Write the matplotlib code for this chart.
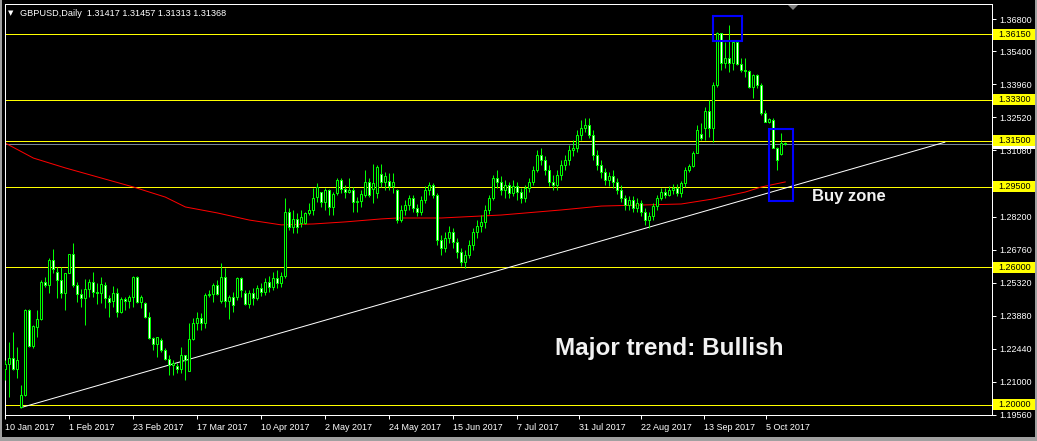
import matplotlib
matplotlib.use("Agg")
import matplotlib.pyplot as plt
from matplotlib.patches import Rectangle, Polygon
import matplotlib.transforms as mtransforms

# ---------------- data ----------------
opens = [
    1.2157, 1.2179, 1.2204, 1.2157, 1.1992, 1.2043, 1.2414, 1.2257, 1.2339, 1.2375,
    1.2535, 1.2522, 1.2631, 1.2579, 1.2544, 1.2488, 1.2575, 1.2657, 1.2522, 1.2484,
    1.2466, 1.2505, 1.2535, 1.2492, 1.2488, 1.2522, 1.2466, 1.2453, 1.2488, 1.2405,
    1.2462, 1.2453, 1.2470, 1.2557, 1.2448, 1.2444, 1.2383, 1.2292, 1.2266, 1.2283,
    1.2239, 1.2200, 1.2174, 1.2170, 1.2157, 1.2218, 1.2148, 1.2287, 1.2357, 1.2379,
    1.2357, 1.2479, 1.2484, 1.2522, 1.2453, 1.2557, 1.2453, 1.2470, 1.2470, 1.2553,
    1.2488, 1.2440, 1.2488, 1.2466, 1.2509, 1.2492, 1.2535, 1.2514, 1.2553, 1.2531,
    1.2561, 1.2840, 1.2775, 1.2809, 1.2792, 1.2792, 1.2836, 1.2849, 1.2905, 1.2927,
    1.2884, 1.2936, 1.2862, 1.2923, 1.2979, 1.2940, 1.2927, 1.2936, 1.2884, 1.2888,
    1.2914, 1.2971, 1.2940, 1.2923, 1.3006, 1.2971, 1.2975, 1.2953, 1.2936, 1.2805,
    1.2849, 1.2871, 1.2901, 1.2858, 1.2840, 1.2892, 1.2936, 1.2958, 1.2914, 1.2718,
    1.2683, 1.2727, 1.2753, 1.2710, 1.2666, 1.2622, 1.2653, 1.2697, 1.2753, 1.2779,
    1.2797, 1.2849, 1.2901, 1.2988, 1.2971, 1.2936, 1.2958, 1.2923, 1.2953, 1.2927,
    1.2901, 1.2945, 1.2971, 1.3023, 1.3088, 1.3067, 1.3023, 1.2971, 1.2958, 1.3001,
    1.3045, 1.3067, 1.3110, 1.3119, 1.3175, 1.3206, 1.3219, 1.3175, 1.3088, 1.3045,
    1.3014, 1.2979, 1.2997, 1.2971, 1.2936, 1.2901, 1.2871, 1.2892, 1.2858, 1.2879,
    1.2840, 1.2805, 1.2823, 1.2866, 1.2901, 1.2927, 1.2914, 1.2936, 1.2945, 1.2923,
    1.2966, 1.3023, 1.3040, 1.3097, 1.3180, 1.3206, 1.3280, 1.3206, 1.3393, 1.3619,
    1.3489, 1.3511, 1.3489, 1.3580, 1.3484, 1.3458, 1.3454, 1.3384, 1.3437, 1.3393,
    1.3271, 1.3232, 1.3241, 1.3119, 1.3093, 1.31417,
]
highs = [
    1.2196, 1.2274, 1.2317, 1.2253, 1.2087, 1.2418, 1.2418, 1.2348, 1.2414, 1.2544,
    1.2557, 1.2640, 1.2679, 1.2601, 1.2601, 1.2575, 1.2657, 1.2705, 1.2535, 1.2505,
    1.2548, 1.2548, 1.2579, 1.2531, 1.2557, 1.2535, 1.2479, 1.2518, 1.2509, 1.2470,
    1.2470, 1.2479, 1.2561, 1.2561, 1.2479, 1.2448, 1.2405, 1.2296, 1.2296, 1.2292,
    1.2248, 1.2218, 1.2196, 1.2183, 1.2253, 1.2218, 1.2357, 1.2379, 1.2405, 1.2401,
    1.2488, 1.2501, 1.2531, 1.2544, 1.2618, 1.2596, 1.2479, 1.2492, 1.2557, 1.2557,
    1.2501, 1.2501, 1.2509, 1.2522, 1.2531, 1.2553, 1.2561, 1.2579, 1.2588, 1.2579,
    1.2901, 1.2858, 1.2849, 1.2836, 1.2849, 1.2840, 1.2879, 1.2945, 1.2966, 1.2927,
    1.2945, 1.2940, 1.2927, 1.2988, 1.2988, 1.2958, 1.2988, 1.2949, 1.2905, 1.2936,
    1.3023, 1.2988, 1.3049, 1.3045, 1.3049, 1.3014, 1.3010, 1.3010, 1.2940, 1.2871,
    1.2892, 1.2914, 1.2914, 1.2875, 1.2910, 1.2953, 1.2971, 1.2966, 1.2923, 1.2740,
    1.2753, 1.2779, 1.2771, 1.2727, 1.2683, 1.2675, 1.2718, 1.2771, 1.2805, 1.2827,
    1.2871, 1.2914, 1.3001, 1.3023, 1.2997, 1.2979, 1.2971, 1.2979, 1.2971, 1.2945,
    1.2958, 1.2988, 1.3040, 1.3110, 1.3119, 1.3084, 1.3045, 1.3001, 1.3023, 1.3067,
    1.3088, 1.3132, 1.3154, 1.3197, 1.3241, 1.3249, 1.3249, 1.3197, 1.3110, 1.3067,
    1.3032, 1.3014, 1.3023, 1.2988, 1.2958, 1.2914, 1.2910, 1.2910, 1.2901, 1.2892,
    1.2858, 1.2840, 1.2879, 1.2914, 1.2945, 1.2945, 1.2953, 1.2962, 1.2962, 1.2975,
    1.3036, 1.3049, 1.3106, 1.3219, 1.3228, 1.3297, 1.3328, 1.3406, 1.3624, 1.3619,
    1.3580, 1.3654, 1.3589, 1.3589, 1.3511, 1.3511, 1.3458, 1.3441, 1.3441, 1.3402,
    1.3284, 1.3249, 1.3249, 1.3123, 1.3184, 1.31457,
]
lows = [
    1.2109, 1.2035, 1.2152, 1.2117, 1.1987, 1.2039, 1.2253, 1.2248, 1.2296, 1.2370,
    1.2514, 1.2488, 1.2575, 1.2466, 1.2466, 1.2414, 1.2575, 1.2514, 1.2448, 1.2427,
    1.2348, 1.2470, 1.2470, 1.2440, 1.2444, 1.2422, 1.2383, 1.2427, 1.2383, 1.2401,
    1.2414, 1.2422, 1.2427, 1.2444, 1.2422, 1.2379, 1.2287, 1.2239, 1.2209, 1.2231,
    1.2196, 1.2131, 1.2131, 1.2139, 1.2139, 1.2109, 1.2148, 1.2283, 1.2326, 1.2326,
    1.2335, 1.2470, 1.2448, 1.2479, 1.2444, 1.2427, 1.2375, 1.2405, 1.2457, 1.2470,
    1.2435, 1.2422, 1.2435, 1.2457, 1.2475, 1.2479, 1.2492, 1.2501, 1.2509, 1.2514,
    1.2553, 1.2762, 1.2749, 1.2749, 1.2775, 1.2788, 1.2827, 1.2827, 1.2884, 1.2862,
    1.2849, 1.2827, 1.2827, 1.2914, 1.2923, 1.2901, 1.2923, 1.2840, 1.2840, 1.2862,
    1.2905, 1.2905, 1.2879, 1.2901, 1.2949, 1.2936, 1.2936, 1.2923, 1.2792, 1.2797,
    1.2827, 1.2849, 1.2840, 1.2823, 1.2827, 1.2879, 1.2914, 1.2901, 1.2697, 1.2653,
    1.2666, 1.2705, 1.2683, 1.2640, 1.2605, 1.2596, 1.2640, 1.2675, 1.2727, 1.2753,
    1.2771, 1.2831, 1.2892, 1.2945, 1.2914, 1.2901, 1.2901, 1.2910, 1.2892, 1.2879,
    1.2884, 1.2927, 1.2958, 1.3014, 1.3045, 1.3001, 1.2953, 1.2936, 1.2936, 1.2979,
    1.3023, 1.3045, 1.3084, 1.3101, 1.3154, 1.3188, 1.3162, 1.3067, 1.3023, 1.2988,
    1.2958, 1.2953, 1.2945, 1.2919, 1.2884, 1.2849, 1.2849, 1.2840, 1.2840, 1.2823,
    1.2784, 1.2771, 1.2805, 1.2849, 1.2892, 1.2901, 1.2910, 1.2919, 1.2910, 1.2905,
    1.2949, 1.3014, 1.3036, 1.3097, 1.3154, 1.3154, 1.3167, 1.3145, 1.3384, 1.3458,
    1.3467, 1.3450, 1.3458, 1.3480, 1.3450, 1.3428, 1.3380, 1.3337, 1.3380, 1.3262,
    1.3232, 1.3228, 1.3119, 1.3023, 1.3088, 1.31313,
]
closes = [
    1.2179, 1.2204, 1.2157, 1.2196, 1.2043, 1.2414, 1.2257, 1.2344, 1.2375, 1.2535,
    1.2522, 1.2631, 1.2592, 1.2544, 1.2488, 1.2575, 1.2657, 1.2522, 1.2484, 1.2466,
    1.2505, 1.2535, 1.2492, 1.2488, 1.2527, 1.2466, 1.2448, 1.2488, 1.2405, 1.2462,
    1.2453, 1.2470, 1.2557, 1.2448, 1.2470, 1.2383, 1.2292, 1.2266, 1.2296, 1.2239,
    1.2200, 1.2174, 1.2183, 1.2157, 1.2218, 1.2196, 1.2287, 1.2357, 1.2379, 1.2357,
    1.2479, 1.2484, 1.2522, 1.2484, 1.2557, 1.2453, 1.2470, 1.2435, 1.2553, 1.2501,
    1.2440, 1.2488, 1.2466, 1.2509, 1.2492, 1.2535, 1.2514, 1.2553, 1.2531, 1.2561,
    1.2840, 1.2775, 1.2809, 1.2775, 1.2818, 1.2836, 1.2849, 1.2901, 1.2949, 1.2884,
    1.2936, 1.2862, 1.2918, 1.2979, 1.2940, 1.2927, 1.2936, 1.2884, 1.2888, 1.2918,
    1.2971, 1.2914, 1.2966, 1.3036, 1.2971, 1.2997, 1.2953, 1.2971, 1.2805, 1.2849,
    1.2871, 1.2901, 1.2858, 1.2840, 1.2892, 1.2936, 1.2958, 1.2914, 1.2718, 1.2683,
    1.2727, 1.2753, 1.2710, 1.2666, 1.2622, 1.2653, 1.2697, 1.2753, 1.2779, 1.2797,
    1.2849, 1.2901, 1.2988, 1.2971, 1.2936, 1.2958, 1.2923, 1.2953, 1.2927, 1.2901,
    1.2945, 1.2971, 1.3023, 1.3088, 1.3067, 1.3023, 1.2971, 1.2958, 1.3001, 1.3045,
    1.3067, 1.3110, 1.3119, 1.3175, 1.3206, 1.3219, 1.3175, 1.3088, 1.3045, 1.3014,
    1.2979, 1.2997, 1.2971, 1.2936, 1.2901, 1.2871, 1.2892, 1.2858, 1.2879, 1.2840,
    1.2805, 1.2823, 1.2866, 1.2901, 1.2927, 1.2914, 1.2936, 1.2945, 1.2923, 1.2966,
    1.3023, 1.3040, 1.3097, 1.3197, 1.3162, 1.3280, 1.3206, 1.3393, 1.3619, 1.3489,
    1.3511, 1.3489, 1.3580, 1.3484, 1.3458, 1.3454, 1.3384, 1.3437, 1.3393, 1.3271,
    1.3232, 1.3245, 1.3119, 1.3067, 1.3140, 1.31368,
]

# moving average (bar index, value)
ma_bars = [0, 7, 15, 24, 32, 40, 45, 53, 61, 69, 77, 85, 94, 98, 109, 124, 139,
           149, 169, 177, 185, 189, 195]
ma_vals = [1.3140, 1.3075, 1.3032, 1.2988, 1.2949, 1.2905, 1.2862, 1.2836, 1.2805,
           1.2784, 1.2788, 1.2797, 1.2810, 1.2814, 1.2814, 1.2827, 1.2849, 1.2866,
           1.2875, 1.2897, 1.2927, 1.2949, 1.2971]

# horizontal support / resistance levels
levels = [1.36150, 1.33300, 1.31500, 1.29500, 1.26000, 1.20000]
bid_price = 1.31368

# trend line anchors
trend_bars = [3.85, 234.9]
trend_prices = [1.1988, 1.3144]

# boxes: (bar_start, bar_end, price_low, price_high)
box1 = (177.0, 184.25, 1.3586, 1.3693)
box2 = (191.0, 197.0, 1.2888, 1.3200)

# axis ticks (1.29640 is hidden under the 1.29500 level label)
price_ticks = [1.36800, 1.35400, 1.33960, 1.32520, 1.31080, 1.28200,
               1.26760, 1.25320, 1.23880, 1.22440, 1.21000, 1.19560]
date_tick_bars = [0, 16, 32, 48, 64, 80, 96, 112, 128, 143.5, 159, 174.6, 190.1]
date_labels = ["10 Jan 2017", "1 Feb 2017", "23 Feb 2017", "17 Mar 2017",
               "10 Apr 2017", "2 May 2017", "24 May 2017", "15 Jun 2017",
               "7 Jul 2017", "31 Jul 2017", "22 Aug 2017", "13 Sep 2017",
               "5 Oct 2017"]

header = "GBPUSD,Daily  1.31417 1.31457 1.31313 1.31368"

assert len(opens) == len(highs) == len(lows) == len(closes)

# ---------------- figure ----------------
W, H = 1037, 441
fig = plt.figure(figsize=(W / 100, H / 100), dpi=100)
fig.patch.set_facecolor("black")

L, R, T, B = 5, 992, 4, 415
ax = fig.add_axes([L / W, 1 - B / H, (R - L) / W, (B - T) / H])
ax.set_facecolor("black")
ax.set_xlim(-0.1, 246.7)
ax.set_ylim(1.1956, 1.3746)

LW = 0.72  # 1 px

for lv in levels:
    ax.axhline(lv, color="#FFFF00", lw=LW, zorder=1)
ax.axhline(bid_price, color="#778899", lw=LW, zorder=1)

ax.plot(ma_bars, ma_vals, color="#FF0000", lw=LW, zorder=2)
ax.plot(trend_bars, trend_prices, color="white", lw=LW, zorder=2)

idx = list(range(len(opens)))
ax.vlines(idx, lows, highs, color="#00FF00", lw=LW, zorder=3)
for i, o, c in zip(idx, opens, closes):
    face = "black" if c > o else "white"
    ax.add_patch(Rectangle((i - 0.25, min(o, c)), 0.5, abs(c - o),
                           facecolor=face, edgecolor="#00FF00", lw=LW, zorder=4))

for (x0, x1, y0, y1) in (box1, box2):
    ax.add_patch(Rectangle((x0, y0), x1 - x0, y1 - y0, fill=False,
                           edgecolor="#0000FF", lw=1.5, zorder=5))

ax.text(201.8, 1.2907, "Buy zone", color="#f2f2f2", fontsize=12,
        family="Liberation Sans", fontweight="bold",
        ha="left", va="center", zorder=6)
ax.text(137.5, 1.2245, "Major trend: Bullish", color="#f2f2f2", fontsize=17.5,
        family="Liberation Sans", fontweight="bold",
        ha="left", va="center", zorder=6)

for s in ax.spines.values():
    s.set_color("white")
    s.set_linewidth(LW)

ax.yaxis.tick_right()
ax.set_yticks(price_ticks)
ax.set_yticklabels([f"{v:.5f}" for v in price_ticks])
ax.tick_params(axis="y", colors="white", length=3, width=LW, pad=2,
               labelsize=6.5, direction="out")
for lbl in ax.get_yticklabels():
    lbl.set_family("Liberation Sans")

ax.set_xticks(date_tick_bars)
ax.set_xticklabels(date_labels)
ax.tick_params(axis="x", colors="white", length=3, width=LW, pad=3,
               labelsize=6.5, direction="out")
for lbl in ax.get_xticklabels():
    lbl.set_ha("left")
    lbl.set_family("Liberation Sans")

btf = mtransforms.blended_transform_factory(fig.transFigure, ax.transData)
box_h = 11 * (1.3746 - 1.1956) / (B - T)
bx0, bx1 = 993 / W, 1035 / W


def axis_box(price, bg, zo):
    fig.add_artist(Rectangle((bx0, price - box_h / 2), bx1 - bx0, box_h,
                             transform=btf, facecolor=bg, edgecolor="none",
                             zorder=zo))


# bid-price marker: its text sits hidden under the 1.31500 label
axis_box(bid_price, "white", -1)
for lv in levels:
    axis_box(lv, "#FFFF00", 5)
    fig.text(998 / W, lv, f"{lv:.5f}", transform=btf, color="black",
             fontsize=6.5, family="Liberation Sans", ha="left", va="center",
             zorder=5.5)

fig.text(8 / W, 1 - 13 / H, "\u25BC", color="white", fontsize=5,
         family="DejaVu Sans", ha="left", va="center")
fig.text(20 / W, 1 - 13 / H, header, color="white", fontsize=6.6,
         family="Liberation Sans", ha="left", va="center")

fig.add_artist(Polygon([[788 / W, 1 - 5 / H], [798 / W, 1 - 5 / H], [793 / W, 1 - 10 / H]],
                       closed=True, transform=fig.transFigure, facecolor="#808080",
                       edgecolor="none"))

for rect in [(0, 0, 2, H), (W - 2, 0, 2, H), (0, H - 4, W, 4)]:
    x, y, w, h = rect
    fig.add_artist(Rectangle((x / W, 1 - (y + h) / H), w / W, h / H,
                             transform=fig.transFigure, facecolor="#a0a0a0",
                             edgecolor="none"))

fig.savefig("out.png", dpi=100, facecolor="black")
